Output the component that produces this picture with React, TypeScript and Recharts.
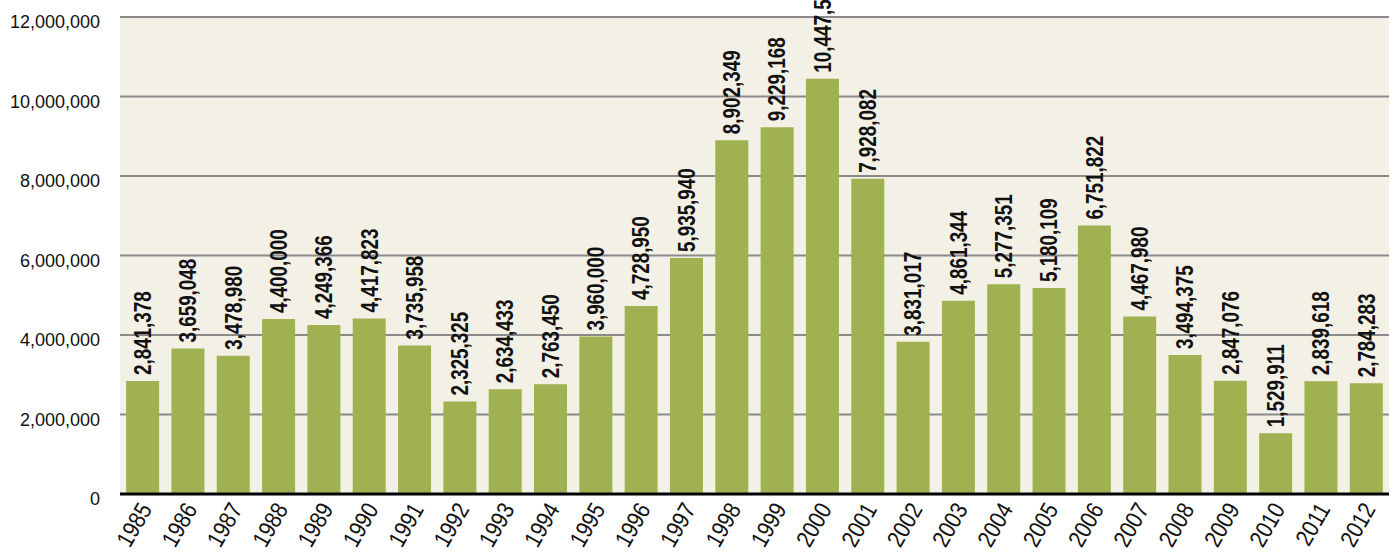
import React from 'react';
import { BarChart, Bar, XAxis, YAxis, CartesianGrid, LabelList } from 'recharts';

const years = ['1985','1986','1987','1988','1989','1990','1991','1992','1993','1994','1995','1996','1997','1998','1999','2000','2001','2002','2003','2004','2005','2006','2007','2008','2009','2010','2011','2012'];
const values = [2841378,3659048,3478980,4400000,4249366,4417823,3735958,2325325,2634433,2763450,3960000,4728950,5935940,8902349,9229168,10447528,7928082,3831017,4861344,5277351,5180109,6751822,4467980,3494375,2847076,1529911,2839618,2784283];
const yTicks = [0, 2000000, 4000000, 6000000, 8000000, 10000000, 12000000];

const data = years.map((y, i) => ({ year: y, value: values[i] }));

const fmt = (v: number) => v.toLocaleString('en-US');

const ValueLabel = (props: any) => {
  const { x, y, width, value } = props;
  const cx = x + width / 2;
  const ty = y - 6;
  return (
    <text
      x={0}
      y={0}
      dy="0.36em"
      transform={`translate(${cx}, ${ty}) rotate(-90) scale(0.82, 1)`}
      textAnchor="start"
      fontFamily="'Liberation Sans', Arial, sans-serif"
      fontWeight="bold"
      fontSize={23}
      fill="#111"
    >
      {fmt(value)}
    </text>
  );
};

const XTick = (props: any) => {
  const { x, y, payload } = props;
  const px = x + 10;
  const py = y + 15;
  return (
    <text
      x={0}
      y={0}
      transform={`translate(${px}, ${py}) rotate(-60) scale(0.86, 1)`}
      textAnchor="end"
      fontFamily="'Liberation Sans', Arial, sans-serif"
      fontSize={24}
      fill="#111"
    >
      {payload.value}
    </text>
  );
};

const YTick = (props: any) => {
  const { x, y, payload } = props;
  return (
    <text
      x={x}
      y={y + 5}
      dy="0.355em"
      textAnchor="end"
      fontFamily="'Liberation Sans', Arial, sans-serif"
      fontSize={18}
      fill="#111"
    >
      {fmt(payload.value)}
    </text>
  );
};

export default function App() {
  return (
    <div style={{ position: 'absolute', left: 0, top: 0, background: '#ffffff' }}>
      <BarChart
        width={1397}
        height={558}
        data={data}
        margin={{ top: 17, right: 8, left: 0, bottom: 0 }}
        barCategoryGap="13.5%"
      >
        <CartesianGrid
          vertical={false}
          horizontal={true}
          stroke="#8a8a8a"
          strokeWidth={2}
          fill="#f3f0e6"
          fillOpacity={1}
        />
        <XAxis
          dataKey="year"
          height={64}
          tickLine={false}
          tickSize={0}
          tickMargin={0}
          axisLine={{ stroke: '#000', strokeWidth: 3 }}
          tick={<XTick />}
          interval={0}
        />
        <YAxis
          width={120}
          domain={[0, 12000000]}
          ticks={yTicks}
          axisLine={false}
          tickLine={false}
          tickSize={0}
          tickMargin={20}
          tick={<YTick />}
          interval={0}
        />
        <Bar dataKey="value" fill="#9fb150" isAnimationActive={false}>
          <LabelList dataKey="value" content={<ValueLabel />} />
        </Bar>
      </BarChart>
    </div>
  );
}
